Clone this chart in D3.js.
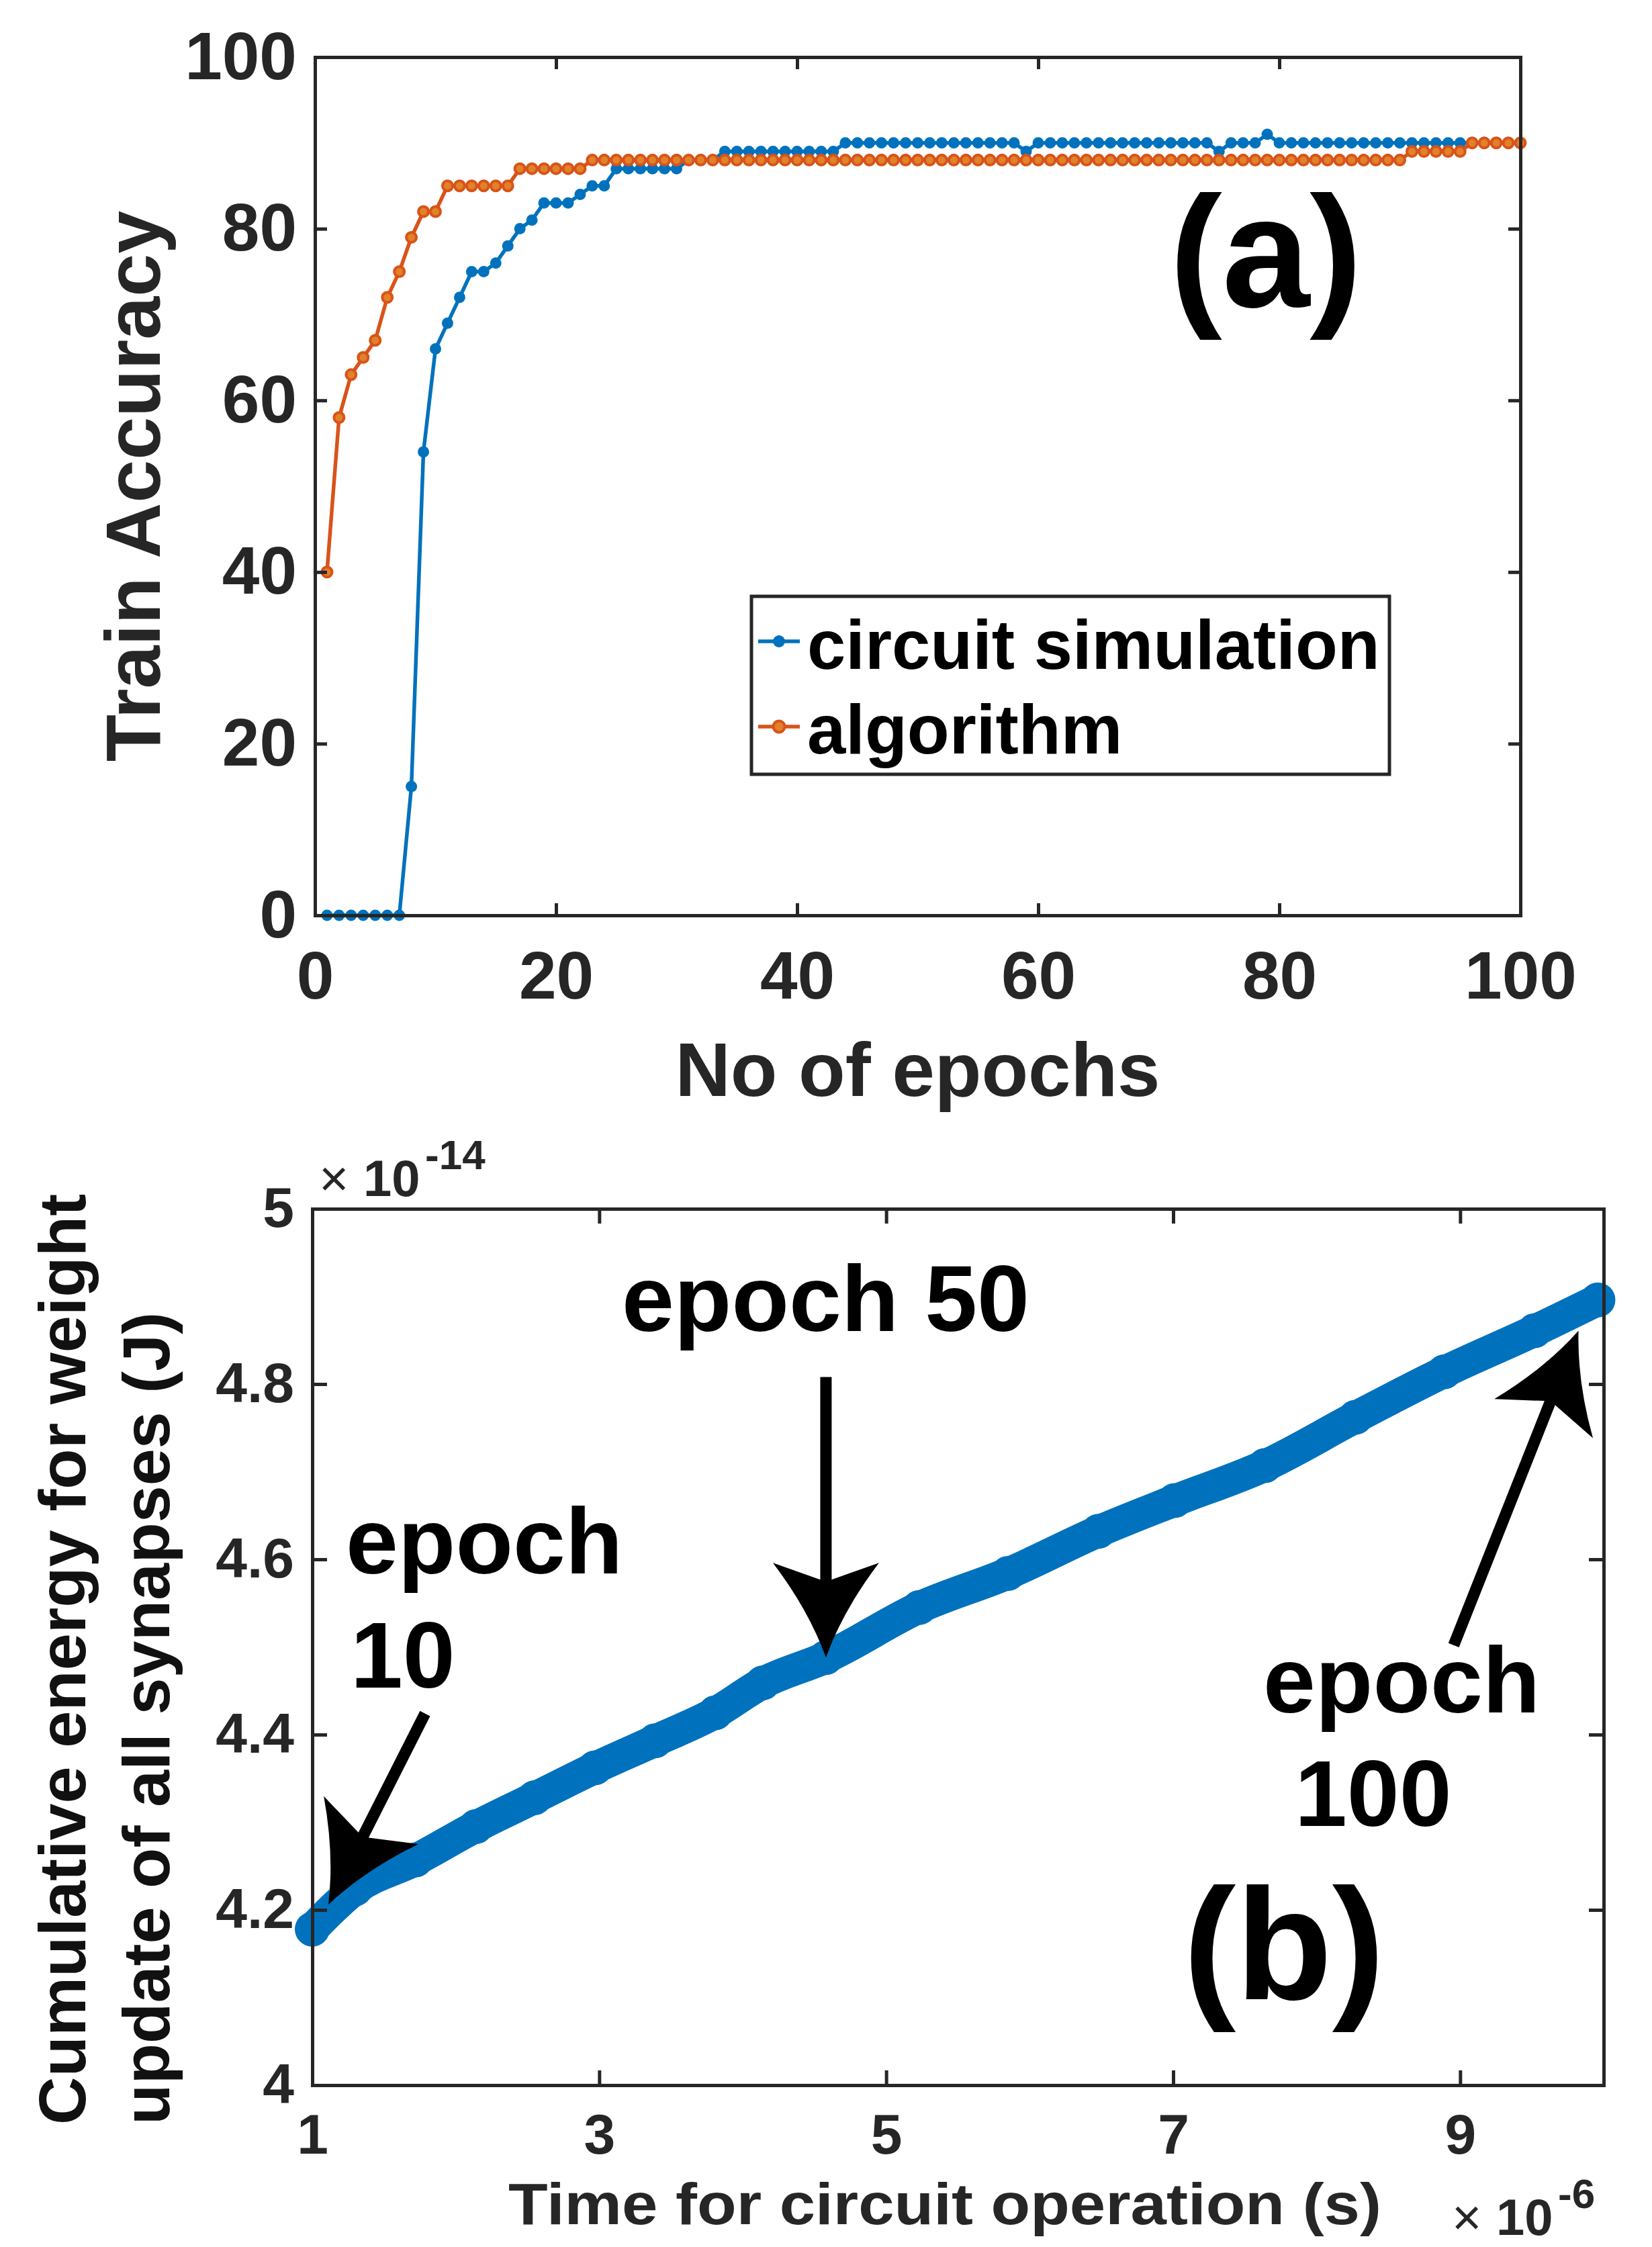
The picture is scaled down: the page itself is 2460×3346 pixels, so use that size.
<!DOCTYPE html>
<html>
<head>
<meta charset="utf-8">
<script src="https://cdnjs.cloudflare.com/ajax/libs/d3/7.8.5/d3.min.js"></script>
<style>
  body { margin: 0; background: #fff; }
  svg { display: block; font-family: "Liberation Sans", Arial, Helvetica, sans-serif; }
</style>
</head>
<body>
<svg id="chart"></svg>
<script>
// ---- panel (a): train accuracy per epoch ----
let epochs = d3.range(1, 101)
let circuitAcc = [
  0, 0, 0, 0, 0, 0, 0, 15, 54, 66,
  69, 72, 75, 75, 76, 78, 80, 81, 83, 83,
  83, 84, 85, 85, 87, 87, 87, 87, 87, 87,
  88, 88, 88, 89, 89, 89, 89, 89, 89, 89,
  89, 89, 89, 90, 90, 90, 90, 90, 90, 90,
  90, 90, 90, 90, 90, 90, 90, 90, 89, 90,
  90, 90, 90, 90, 90, 90, 90, 90, 90, 90,
  90, 90, 90, 90, 89, 90, 90, 90, 91, 90,
  90, 90, 90, 90, 90, 90, 90, 90, 90, 90,
  90, 90, 90, 90, 90, 90, 90, 90, 90, 90
]
let algorithmAcc = [
  40, 58, 63, 65, 67, 72, 75, 79, 82, 82,
  85, 85, 85, 85, 85, 85, 87, 87, 87, 87,
  87, 87, 88, 88, 88, 88, 88, 88, 88, 88,
  88, 88, 88, 88, 88, 88, 88, 88, 88, 88,
  88, 88, 88, 88, 88, 88, 88, 88, 88, 88,
  88, 88, 88, 88, 88, 88, 88, 88, 88, 88,
  88, 88, 88, 88, 88, 88, 88, 88, 88, 88,
  88, 88, 88, 88, 88, 88, 88, 88, 88, 88,
  88, 88, 88, 88, 88, 88, 88, 88, 88, 88,
  89, 89, 89, 89, 89, 90, 90, 90, 90, 90
]
let epochTicks = [0, 20, 40, 60, 80, 100]
let accTicks = [0, 20, 40, 60, 80, 100]
let legendNames = ["circuit simulation", "algorithm"]

// ---- panel (b): cumulative energy (x1e-14 J) vs time (x1e-6 s) ----
let timeUs = [1.0, 1.3, 1.72, 2.14, 2.55, 2.97, 3.39, 3.81, 4.14, 4.58,
              5.23, 5.85, 6.48, 7.01, 7.64, 8.27, 8.89, 9.52, 9.96]
let energy = [4.178, 4.224, 4.257, 4.295, 4.328, 4.362, 4.393, 4.425, 4.459, 4.488,
              4.545, 4.584, 4.632, 4.667, 4.707, 4.762, 4.814, 4.861, 4.896]
let timeTicks = [1, 3, 5, 7, 9]
let energyTicks = [4, 4.2, 4.4, 4.6, 4.8, 5]
// arrows, in data units: tail (t, e) -> head (t, e)
let arrowTails = [[1.786, 4.424], [4.58, 4.808], [8.955, 4.502]]
let arrowHeads = [[1.112, 4.206], [4.58, 4.488], [9.825, 4.861]]

let width = 2460
let height = 3346
let axisColor = "#262626"
let blue = "#0072BD"
let orange = "#D95319"
let orangeFill = "#E0822A"

let svg = d3.select("#chart")
svg.attr("width", width)
   .attr("height", height)
   .style("background", "#fff")

let styleAxis = (g, fontSize) => {
  g.attr("font-family", null)
   .attr("font-size", fontSize)
   .attr("font-weight", "bold")
  g.select(".domain").attr("stroke", axisColor).attr("stroke-width", 5).attr("stroke-linecap", "square")
  g.selectAll(".tick line").attr("stroke", axisColor).attr("stroke-width", 5)
  g.selectAll(".tick text").attr("fill", axisColor)
}

// ================= panel (a) =================
let xA = d3.scaleLinear().domain([0, 100]).range([469, 2264])
let yA = d3.scaleLinear().domain([0, 100]).range([1363, 85])

let drawPanelA = () => {
  let g = svg.append("g").attr("id", "panel-a")

  // series
  let line = d3.line()
               .x((d, i) => xA(epochs[i]))
               .y(d => yA(d))

  g.append("path")
   .attr("d", line(circuitAcc))
   .attr("fill", "none")
   .attr("stroke", blue)
   .attr("stroke-width", 5.5)
  g.selectAll(".dot-circuit")
   .data(circuitAcc)
   .enter()
   .append("circle")
   .attr("class", "dot-circuit")
   .attr("cx", (d, i) => xA(epochs[i]))
   .attr("cy", d => yA(d))
   .attr("r", 8.5)
   .attr("fill", blue)

  g.append("path")
   .attr("d", line(algorithmAcc))
   .attr("fill", "none")
   .attr("stroke", orange)
   .attr("stroke-width", 5.5)
  g.selectAll(".dot-algo")
   .data(algorithmAcc)
   .enter()
   .append("circle")
   .attr("class", "dot-algo")
   .attr("cx", (d, i) => xA(epochs[i]))
   .attr("cy", d => yA(d))
   .attr("r", 7.5)
   .attr("fill", orangeFill)
   .attr("stroke", orange)
   .attr("stroke-width", 4)

  // axes (box with inward ticks)
  g.append("g")
   .attr("transform", "translate(0," + yA(0) + ")")
   .call(d3.axisBottom(xA).tickValues(epochTicks).tickSizeInner(-18).tickSizeOuter(0).tickPadding(53))
   .call(s => styleAxis(s, 100))
  g.append("g")
   .attr("transform", "translate(0," + yA(100) + ")")
   .call(d3.axisTop(xA).tickValues(epochTicks).tickSizeInner(-18).tickSizeOuter(0).tickFormat(""))
   .call(s => styleAxis(s, 100))
  g.append("g")
   .attr("transform", "translate(" + xA(0) + ",0)")
   .call(d3.axisLeft(yA).tickValues(accTicks).tickSizeInner(-18).tickSizeOuter(0).tickPadding(27))
   .call(s => styleAxis(s, 100))
  g.append("g")
   .attr("transform", "translate(" + xA(100) + ",0)")
   .call(d3.axisRight(yA).tickValues(accTicks).tickSizeInner(-18).tickSizeOuter(0).tickFormat(""))
   .call(s => styleAxis(s, 100))

  // labels
  g.append("text")
   .text("No of epochs")
   .attr("x", (xA(0) + xA(100)) / 2)
   .attr("y", 1632)
   .attr("text-anchor", "middle")
   .attr("font-size", 114)
   .attr("font-weight", "bold")
   .attr("fill", axisColor)
  g.append("text")
   .text("Train Accuracy")
   .attr("transform", "translate(238," + (yA(0) + yA(100)) / 2 + ") rotate(-90)")
   .attr("text-anchor", "middle")
   .attr("font-size", 115)
   .attr("font-weight", "bold")
   .attr("fill", axisColor)
  g.append("text")
   .text("(a)")
   .attr("x", 1885)
   .attr("y", 457)
   .attr("text-anchor", "middle")
   .attr("font-size", 235)
   .attr("font-weight", "bold")
   .attr("fill", "#000")

  // legend
  let lg = g.append("g").attr("id", "legend")
  lg.append("rect")
    .attr("x", 1119).attr("y", 888)
    .attr("width", 950).attr("height", 265)
    .attr("fill", "#fff")
    .attr("stroke", axisColor)
    .attr("stroke-width", 5)
  let rows = [955, 1082]
  let baselines = [996, 1122]
  legendNames.forEach((name, i) => {
    let c = i === 0 ? blue : orange
    lg.append("line")
      .attr("x1", 1129).attr("x2", 1191)
      .attr("y1", rows[i]).attr("y2", rows[i])
      .attr("stroke", c).attr("stroke-width", 5.5)
    lg.append("circle")
      .attr("cx", 1160).attr("cy", rows[i])
      .attr("r", i === 0 ? 9 : 8.5)
      .attr("fill", i === 0 ? blue : orangeFill)
      .attr("stroke", i === 0 ? "none" : orange)
      .attr("stroke-width", 4)
    lg.append("text")
      .text(name)
      .attr("x", 1202)
      .attr("y", baselines[i])
      .attr("font-size", 103)
      .attr("font-weight", "bold")
      .attr("fill", "#000")
  })
}

// ================= panel (b) =================
let xB = d3.scaleLinear().domain([1, 10]).range([465, 2388])
let yB = d3.scaleLinear().domain([4, 5]).range([3105, 1800])

let arrowPath = (tail, head) => {
  let sx = xB(tail[0]), sy = yB(tail[1])
  let tx = xB(head[0]), ty = yB(head[1])
  let len = Math.hypot(sx - tx, sy - ty)
  let ux = (sx - tx) / len, uy = (sy - ty) / len   // from tip back to tail
  let nx = -uy, ny = ux
  let hl = 141, notch = 116, hw = 79, sw = 8.5, bow = 14
  let pt = (a, b) => [tx + ux * a + nx * b, ty + uy * a + ny * b]
  let w1 = pt(hl, hw), w2 = pt(hl, -hw)
  let n1 = pt(notch, sw), n2 = pt(notch, -sw)
  let c1 = pt(hl / 2, hw / 2 - bow), c2 = pt(hl / 2, -hw / 2 + bow)
  let p = d3.path()
  p.moveTo(tx, ty)
  p.quadraticCurveTo(c1[0], c1[1], w1[0], w1[1])
  p.lineTo(n1[0], n1[1])
  p.lineTo(sx + nx * sw, sy + ny * sw)
  p.lineTo(sx - nx * sw, sy - ny * sw)
  p.lineTo(n2[0], n2[1])
  p.lineTo(w2[0], w2[1])
  p.quadraticCurveTo(c2[0], c2[1], tx, ty)
  p.closePath()
  return p.toString()
}

let drawPanelB = () => {
  let g = svg.append("g").attr("id", "panel-b")

  let line = d3.line()
               .x((d, i) => xB(timeUs[i]))
               .y(d => yB(d))
               .curve(d3.curveMonotoneX)
  g.append("path")
   .attr("d", line(energy))
   .attr("fill", "none")
   .attr("stroke", blue)
   .attr("stroke-width", 48)
   .attr("stroke-linecap", "round")
   .attr("stroke-linejoin", "round")
  g.selectAll(".dot-energy")
   .data(energy)
   .enter()
   .append("circle")
   .attr("class", "dot-energy")
   .attr("cx", (d, i) => xB(timeUs[i]))
   .attr("cy", d => yB(d))
   .attr("r", 26)
   .attr("fill", blue)

  let fmt = d => String(+d.toFixed(1))
  g.append("g")
   .attr("transform", "translate(0," + yB(4) + ")")
   .call(d3.axisBottom(xB).tickValues(timeTicks).tickFormat(fmt).tickSizeInner(-22).tickSizeOuter(0).tickPadding(42))
   .call(s => styleAxis(s, 84))
  g.append("g")
   .attr("transform", "translate(0," + yB(5) + ")")
   .call(d3.axisTop(xB).tickValues(timeTicks).tickSizeInner(-22).tickSizeOuter(0).tickFormat(""))
   .call(s => styleAxis(s, 84))
  g.append("g")
   .attr("transform", "translate(" + xB(1) + ",0)")
   .call(d3.axisLeft(yB).tickValues(energyTicks).tickFormat(fmt).tickSizeInner(-22).tickSizeOuter(0).tickPadding(27))
   .call(s => styleAxis(s, 84))
  g.append("g")
   .attr("transform", "translate(" + xB(10) + ",0)")
   .call(d3.axisRight(yB).tickValues(energyTicks).tickSizeInner(-22).tickSizeOuter(0).tickFormat(""))
   .call(s => styleAxis(s, 84))

  // exponent labels
  let expLabel = (x, y, exp) => {
    g.append("text").text("\u00d7").attr("x", x).attr("y", y)
     .attr("font-size", 76).attr("fill", axisColor)
    g.append("text").text("10").attr("x", x + 66).attr("y", y)
     .attr("font-size", 76).attr("font-weight", "bold").attr("fill", axisColor)
    g.append("text").text(exp).attr("x", x + 158).attr("y", y - 40)
     .attr("font-size", 62).attr("font-weight", "bold").attr("fill", axisColor)
  }
  expLabel(475, 1781, "-14")
  expLabel(2162, 3328, "-6")

  // axis labels
  g.append("text")
   .text("Time for circuit operation (s)")
   .attr("x", 757)
   .attr("y", 3312)
   .attr("textLength", 1300)
   .attr("lengthAdjust", "spacingAndGlyphs")
   .attr("font-size", 88)
   .attr("font-weight", "bold")
   .attr("fill", axisColor)
  let ylab = ["Cumulative energy for weight", "update of all synapses (J)"]
  ylab.forEach((t, i) => {
    g.append("text")
     .text(t)
     .attr("transform", "translate(" + (127 + i * 125) + ",3164) rotate(-90)")
     .attr("font-size", 99)
     .attr("font-weight", "bold")
     .attr("fill", "#111")
  })

  // annotations
  let notes = [
    ["epoch 50", 926, 1982],
    ["epoch", 515, 2343], ["10", 522, 2513],
    ["epoch", 1881, 2550], ["100", 1928, 2719]
  ]
  notes.forEach(n => {
    g.append("text")
     .text(n[0])
     .attr("x", n[1])
     .attr("y", n[2])
     .attr("font-size", 140)
     .attr("font-weight", "bold")
     .attr("fill", "#000")
  })
  g.append("text")
   .text("(b)")
   .attr("x", 1912)
   .attr("y", 2977)
   .attr("text-anchor", "middle")
   .attr("font-size", 235)
   .attr("font-weight", "bold")
   .attr("fill", "#000")

  g.selectAll(".arrow")
   .data(arrowTails)
   .enter()
   .append("path")
   .attr("class", "arrow")
   .attr("d", (d, i) => arrowPath(d, arrowHeads[i]))
   .attr("fill", "#000")
}

drawPanelA()
drawPanelB()
</script>
</body>
</html>
